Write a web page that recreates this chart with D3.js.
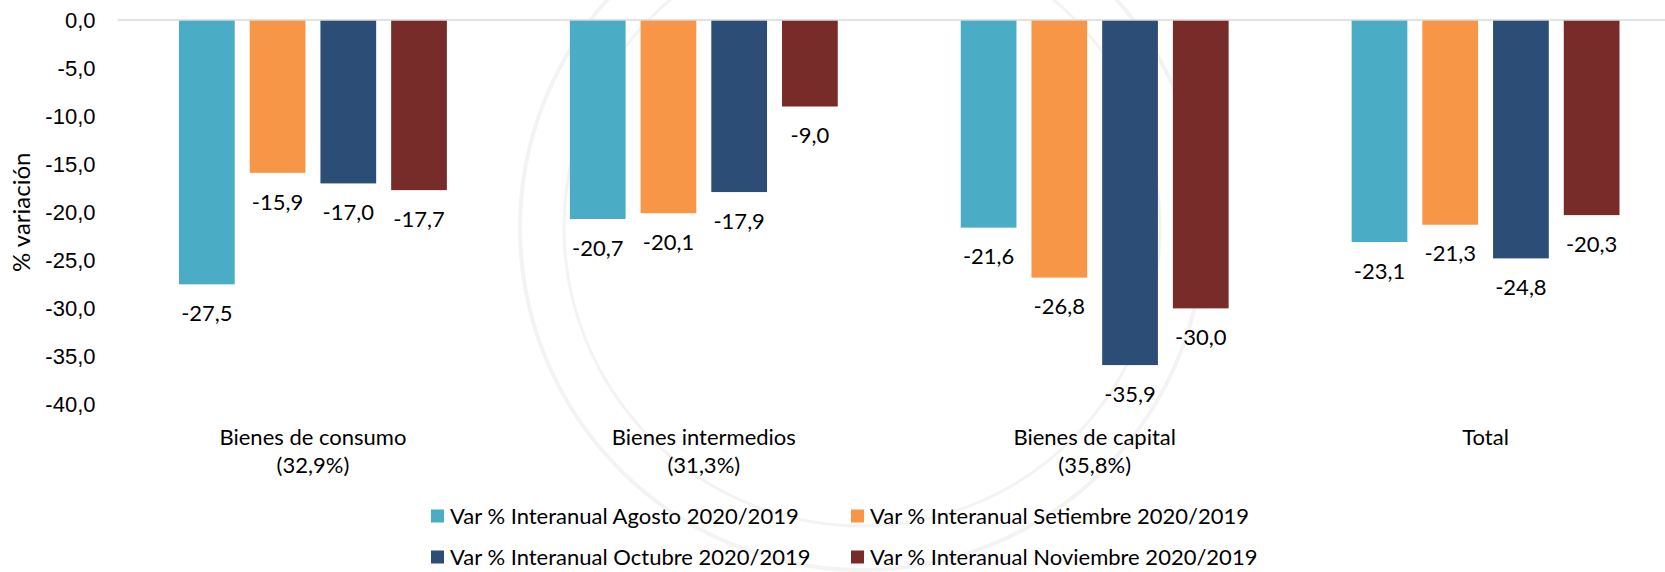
<!DOCTYPE html>
<html>
<head>
<meta charset="utf-8">
<script src="https://cdn.jsdelivr.net/npm/d3@7"></script>
<style>
  body { margin: 0; background: #fff; }
  svg { display: block; font-family: Lato, "Open Sans", sans-serif; }
</style>
</head>
<body>
<svg id="chart"></svg>
<script>
const categories = ['Bienes de consumo', 'Bienes intermedios', 'Bienes de capital', 'Total']
const categoryShares = ['(32,9%)', '(31,3%)', '(35,8%)', '']
const seriesNames = [
  'Var % Interanual Agosto 2020/2019',
  'Var % Interanual Setiembre 2020/2019',
  'Var % Interanual Octubre 2020/2019',
  'Var % Interanual Noviembre 2020/2019'
]
const agosto = [-27.5, -20.7, -21.6, -23.1]
const setiembre = [-15.9, -20.1, -26.8, -21.3]
const octubre = [-17.0, -17.9, -35.9, -24.8]
const noviembre = [-17.7, -9.0, -30.0, -20.3]
const yTicks = [0, -5, -10, -15, -20, -25, -30, -35, -40]
const colors = ['#4bacc6', '#f79646', '#2c4d75', '#772c2a']

const width = 1665
const height = 572
const plotLeft = 117.5
const plotRight = 1681
const plotTop = 20
const plotBottom = 404.5
const fontSize = 22

const seriesValues = [agosto, setiembre, octubre, noviembre]
const rows = categories.map((c, i) => ({
  cat: c,
  share: categoryShares[i],
  values: seriesNames.map((s, j) => ({ series: s, value: seriesValues[j][i] }))
}))

const locale = d3.formatLocale({ decimal: ',', thousands: '.', grouping: [3], currency: ['', ''], minus: '-' })
const fmt = locale.format('.1f')

const svg = d3.select('#chart')
              .attr('width', width)
              .attr('height', height)

// faint seal in the background
const seal = svg.append('g')
                .attr('fill', 'none')
                .attr('stroke', '#f3f3f3')
seal.append('circle').attr('cx', 862).attr('cy', 228).attr('r', 342).attr('stroke-width', 4)
seal.append('circle').attr('cx', 862).attr('cy', 228).attr('r', 298).attr('stroke-width', 3)

const x0 = d3.scaleBand()
             .domain(categories)
             .range([plotLeft, plotRight])

const x1 = d3.scaleBand()
             .domain(seriesNames)
             .range([61.5, x0.bandwidth() - 61.5])
             .paddingInner(0.212)

const y = d3.scaleLinear()
            .domain([0, -40])
            .range([plotTop, plotBottom])

const color = d3.scaleOrdinal()
                .domain(seriesNames)
                .range(colors)

// y axis
svg.append('g')
   .attr('transform', `translate(${plotLeft}, 0)`)
   .call(d3.axisLeft(y).tickValues(yTicks).tickSize(0).tickPadding(22).tickFormat(fmt))
   .call(g => g.select('.domain').remove())
   .call(g => g.selectAll('text').attr('font-size', fontSize).attr('fill', '#000').attr('font-family', null))

svg.append('text')
   .text('% variación')
   .attr('transform', `translate(22, ${(plotTop + plotBottom) / 2})rotate(-90)`)
   .attr('text-anchor', 'middle')
   .attr('dy', '0.35em')
   .attr('font-size', 24)

// bars
const groups = svg.append('g')
                  .selectAll('g')
                  .data(rows)
                  .join('g')
                  .attr('transform', d => `translate(${x0(d.cat)}, 0)`)

groups.selectAll('rect')
      .data(d => d.values)
      .join('rect')
      .attr('x', d => x1(d.series))
      .attr('y', y(0))
      .attr('width', x1.bandwidth())
      .attr('height', d => y(d.value) - y(0))
      .attr('fill', d => color(d.series))

groups.selectAll('text.val')
      .data(d => d.values)
      .join('text')
      .attr('class', 'val')
      .text(d => fmt(d.value))
      .attr('x', d => x1(d.series) + x1.bandwidth() / 2)
      .attr('y', d => y(d.value) + 29)
      .attr('dy', '0.35em')
      .attr('text-anchor', 'middle')
      .attr('font-size', fontSize)

// zero line
svg.append('line')
   .attr('x1', plotLeft)
   .attr('x2', plotRight)
   .attr('y1', y(0))
   .attr('y2', y(0))
   .attr('stroke', '#d9d9d9')
   .attr('stroke-width', 1.5)

// category labels
const catLabels = svg.append('g')
                     .selectAll('text')
                     .data(rows)
                     .join('text')
                     .attr('text-anchor', 'middle')
                     .attr('font-size', fontSize)
catLabels.append('tspan')
         .attr('x', d => x0(d.cat) + x0.bandwidth() / 2)
         .attr('y', 437)
         .attr('dy', '0.35em')
         .text(d => d.cat)
catLabels.append('tspan')
         .attr('x', d => x0(d.cat) + x0.bandwidth() / 2)
         .attr('y', 465)
         .attr('dy', '0.35em')
         .text(d => d.share)

// legend
const legendX = [431, 851]
const legendY = [516, 557]
const legend = svg.append('g')
                  .selectAll('g')
                  .data(seriesNames)
                  .join('g')
                  .attr('transform', (d, i) => `translate(${legendX[i % 2]}, ${legendY[Math.floor(i / 2)]})`)
legend.append('rect')
      .attr('x', 0)
      .attr('y', -6.5)
      .attr('width', 13)
      .attr('height', 13)
      .attr('fill', d => color(d))
legend.append('text')
      .attr('x', 19)
      .attr('dy', '0.35em')
      .attr('font-size', fontSize)
      .text(d => d)
</script>
</body>
</html>
